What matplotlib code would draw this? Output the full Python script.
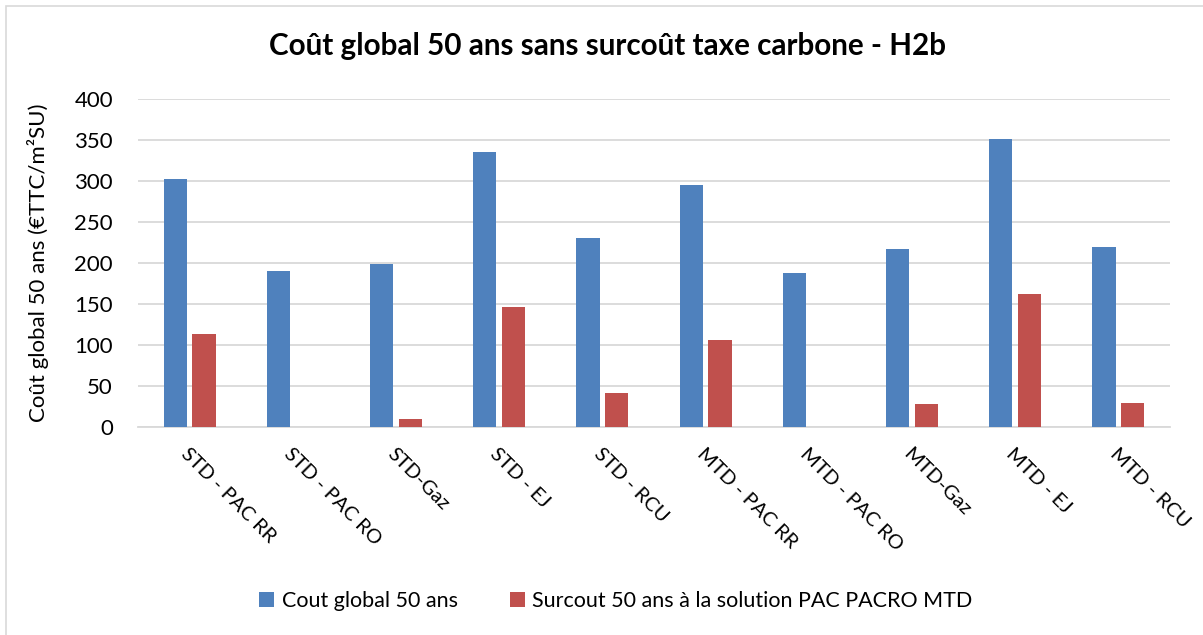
import numpy as np
import matplotlib.pyplot as plt
from matplotlib.patches import Rectangle

plt.rcParams['font.family'] = ['Lato', 'DejaVu Sans']

categories = ['STD - PAC RR', 'STD - PAC RO', 'STD-Gaz', 'STD - EJ', 'STD - RCU',
              'MTD - PAC RR', 'MTD - PAC RO', 'MTD-Gaz', 'MTD - EJ', 'MTD - RCU']
cout_global = [303, 190, 199, 335, 230, 295, 188, 217, 351, 219]
surcout = [114, 0, 10, 146, 41.5, 106.5, 0, 28.5, 162, 29.5]
yticks = [0, 50, 100, 150, 200, 250, 300, 350, 400]

blue = '#4f81bd'
red = '#c0504d'

fig = plt.figure(figsize=(12.03, 6.35), dpi=100)
ax = fig.add_axes([0.1147, 0.3276, 0.8579, 0.5165])

x = np.arange(len(categories))
w = 0.225
ax.bar(x - 0.14, cout_global, w, color=blue, label='Cout global 50 ans', zorder=3)
ax.bar(x + 0.14, surcout, w, color=red,
       label='Surcout 50 ans à la solution PAC PACRO MTD', zorder=3)

ax.set_xlim(-0.5, len(categories) - 0.5)
ax.set_ylim(0, 400)
ax.set_yticks(yticks)
ax.tick_params(axis='y', length=0, labelsize=16, pad=18)
ax.yaxis.grid(True, color='#d9d9d9', linewidth=1.3, zorder=0)
ax.set_xticks(x)
ax.set_xticklabels(categories, rotation=-45, ha='left', va='top',
                   rotation_mode='anchor', fontsize=14.5)
ax.tick_params(axis='x', length=0, pad=13)
for s in ['top', 'right', 'left']:
    ax.spines[s].set_visible(False)
ax.spines['bottom'].set_color('#d9d9d9')
ax.spines['bottom'].set_linewidth(1.3)

ax.set_ylabel('Coût global 50 ans (€TTC/m²SU)', fontsize=16, labelpad=18)
fig.text(0.505, 0.928, 'Coût global 50 ans sans surcoût taxe carbone - H2b',
         ha='center', va='center', fontsize=21.3, fontweight='bold')

fig.legend(loc='center', bbox_to_anchor=(0.512, 0.053), ncol=2, frameon=False,
           fontsize=15.5, handlelength=0.7, handleheight=0.7,
           handletextpad=0.35, columnspacing=2.4)

# light frame of the chart area
fig.patches.append(Rectangle((6 / 1203, -0.1), 1.2, 1.1 - 6 / 635,
                             transform=fig.transFigure, fill=False,
                             edgecolor='#d9d9d9', linewidth=1.2))

fig.savefig('out.png', dpi=100)
